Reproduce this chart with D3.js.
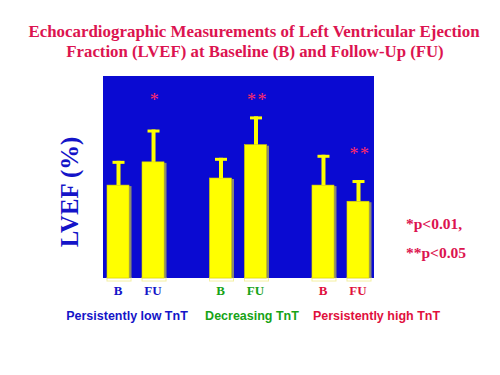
<!DOCTYPE html>
<html><head><meta charset="utf-8">
<script src="https://cdn.jsdelivr.net/npm/d3@7"></script>
<style>body{margin:0;background:#fff;}svg{display:block;}</style>
</head><body>
<svg id="c" width="500" height="375"></svg>
<script>
const groups = ["Persistently low TnT", "Decreasing TnT", "Persistently high TnT"];
const groupColors = ["#1414c8", "#16a316", "#e0103c"];
const timepoints = ["B", "FU"];
const means = [[46, 57.5], [49.5, 66], [46, 38]];
const errors = [[12, 16], [10, 14], [15, 10.5]];
const stars = [["", "*"], ["", "**"], ["", "**"]];
const starValues = [[null, 90], [null, 90], [null, 63.5]];
const notes = ["*p<0.01,", "**p<0.05"];

const svg = d3.select("#c");
const red = "#dc1450";
const plot = {l:103, r:374, t:76, b:278};

// title
svg.append("text").attr("x", 254).attr("y", 37).attr("text-anchor","middle")
  .attr("font-family","Liberation Serif, Times New Roman, serif").attr("font-weight","bold")
  .attr("font-size",16.9).attr("fill",red)
  .text("Echocardiographic Measurements of  Left Ventricular Ejection");
svg.append("text").attr("x", 255).attr("y", 57).attr("text-anchor","middle")
  .attr("font-family","Liberation Serif, Times New Roman, serif").attr("font-weight","bold")
  .attr("font-size",16.8).attr("fill",red)
  .text("Fraction (LVEF) at Baseline (B) and Follow-Up (FU)");

// plot background
svg.append("rect").attr("x",plot.l).attr("y",plot.t).attr("width",plot.r-plot.l).attr("height",plot.b-plot.t)
  .attr("fill","#0a0ad2");

const y = d3.scaleLinear().domain([0,100]).range([plot.b, plot.b-202]);
const x0 = d3.scaleBand().domain(groups).range([107, 371]).paddingInner(0.424).paddingOuter(0);
const x1 = d3.scaleBand().domain(timepoints).range([0, x0.bandwidth()]).paddingInner(0.314);

const flat = [];
groups.forEach((g,i)=>timepoints.forEach((t,j)=>flat.push({g,i,t,j,v:means[i][j],e:errors[i][j],s:stars[i][j],sv:starValues[i][j]})));

const bx = d => x0(d.g)+x1(d.t);
const bw = x1.bandwidth();

// bar base outline below axis
svg.selectAll(".base").data(flat).enter().append("rect")
  .attr("x", d=>bx(d)).attr("y", plot.b).attr("width", bw).attr("height", 3)
  .attr("fill","none").attr("stroke","#f4f0a0").attr("stroke-width",1);

// shadows
svg.selectAll(".sh").data(flat).enter().append("rect")
  .attr("x", d=>bx(d)+bw-2).attr("y", d=>y(d.v)+1).attr("width", 2.5).attr("height", d=>plot.b-y(d.v)-1)
  .attr("fill","#8a8a70");
// bars
svg.selectAll(".bar").data(flat).enter().append("rect")
  .attr("x", d=>bx(d)).attr("y", d=>y(d.v)).attr("width", bw-2).attr("height", d=>plot.b-y(d.v))
  .attr("fill","#ffff00").attr("stroke","#d8d000").attr("stroke-width",0.6);
// error stems
svg.selectAll(".stem").data(flat).enter().append("rect")
  .attr("x", d=>bx(d)+bw/2-2.5).attr("y", d=>y(d.v+d.e)).attr("width", 4).attr("height", d=>y(d.v)-y(d.v+d.e))
  .attr("fill","#ffff00");
svg.selectAll(".cap").data(flat).enter().append("rect")
  .attr("x", d=>bx(d)+bw/2-6.5).attr("y", d=>y(d.v+d.e)).attr("width", 12).attr("height", 3)
  .attr("fill","#ffff00");
// stars
svg.selectAll(".star").data(flat.filter(d=>d.s)).enter().append("text")
  .attr("x", d=>bx(d)+bw/2+1).attr("y", d=>y(d.sv)+10).attr("text-anchor","middle")
  .attr("font-family","Liberation Serif, serif").attr("font-size",18).attr("fill","#ff2a6a")
  .attr("letter-spacing", 1.5)
  .text(d=>d.s);

// B/FU labels
svg.selectAll(".tp").data(flat).enter().append("text")
  .attr("x", d=>bx(d)+bw/2-1).attr("y", 295).attr("text-anchor","middle")
  .attr("font-family","Liberation Serif, Times New Roman, serif").attr("font-weight","bold")
  .attr("font-size",13).attr("fill", d=>groupColors[d.i]).text(d=>d.t);

// group labels
const gx = [127, 252, 376.5];
svg.selectAll(".gl").data(groups).enter().append("text")
  .attr("x",(d,i)=>gx[i]).attr("y",320).attr("text-anchor","middle")
  .attr("font-family","Liberation Sans, Arial, sans-serif").attr("font-weight","bold")
  .attr("font-size",12.5).attr("fill",(d,i)=>groupColors[i]).text(d=>d);

// y label
svg.append("text").attr("transform","translate(78,192) rotate(-90)").attr("text-anchor","middle")
  .attr("font-family","Liberation Serif, Times New Roman, serif").attr("font-weight","bold")
  .attr("font-size",24.8).attr("fill","#1414c8").text("LVEF (%)");

// notes
svg.selectAll(".note").data(notes).enter().append("text")
  .attr("x",406).attr("y",(d,i)=>229+i*29)
  .attr("font-family","Liberation Serif, Times New Roman, serif").attr("font-weight","bold")
  .attr("font-size",15.5).attr("fill",red).text(d=>d);
</script>
</body></html>
